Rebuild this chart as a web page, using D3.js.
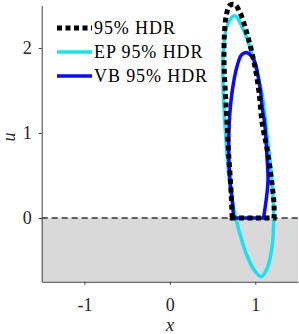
<!DOCTYPE html>
<html>
<head>
<meta charset="utf-8">
<script src="https://cdn.jsdelivr.net/npm/d3@7"></script>
<style>
  body { margin: 0; background: #fff; }
  text { font-family: "Liberation Serif", "Times New Roman", serif; }
</style>
</head>
<body>
<svg id="chart" width="299" height="334"></svg>
<script>
"use strict";

// contour du HDR 95% (tronqué à u = 0)
var hdrX = [0.73, 0.71, 0.69, 0.67, 0.65, 0.635, 0.638, 0.66, 0.70, 0.76, 0.82, 0.90, 0.98, 1.04, 1.08, 1.14, 1.19, 1.22, 1.22]
var hdrU = [0, 0.43, 0.72, 1.12, 1.47, 1.80, 2.15, 2.38, 2.50, 2.51, 2.42, 2.18, 1.86, 1.51, 1.12, 0.80, 0.45, 0.15, 0]

// ellipse EP (fermée)
var epX = [0.757, 0.88, 1.0, 1.08, 1.14, 1.19, 1.215, 1.195, 1.135, 1.07, 1.0, 0.905, 0.815, 0.745, 0.695, 0.655, 0.625, 0.628, 0.67]
var epU = [2.38, 2.17, 1.78, 1.45, 0.95, 0.50, 0.05, -0.35, -0.60, -0.69, -0.63, -0.45, -0.17, 0.12, 0.45, 0.95, 1.50, 1.98, 2.26]

// contour VB (tronqué à u = 0)
var vbX = [0.746, 0.727, 0.707, 0.69, 0.695, 0.727, 0.785, 0.84, 0.903, 0.96, 1.0, 1.06, 1.08, 1.11, 1.137, 1.149, 1.137, 1.097]
var vbU = [0, 0.25, 0.41, 0.72, 1.11, 1.47, 1.78, 1.92, 1.945, 1.90, 1.82, 1.50, 1.30, 1.11, 0.72, 0.45, 0.29, 0]

var xTicks = [-1, 0, 1]
var uTicks = [0, 1, 2]
var xDomain = [-1.5, 1.5]
var uDomain = [-0.75, 2.5]

var legendNames = ["95% HDR", "EP 95% HDR", "VB 95% HDR"]

function toPoints(xs, us) {
    return xs.map((d, i) => ({x: d, u: us[i]}))
}

var svg = d3.select("#chart")

var x = d3.scaleLinear().domain(xDomain).range([41.7, 298])
var y = d3.scaleLinear().domain(uDomain).range([281.75, 5.5])

// zone grise u < 0
svg.append("rect")
    .attr("x", x(xDomain[0]))
    .attr("y", y(0))
    .attr("width", x(xDomain[1]) - x(xDomain[0]))
    .attr("height", y(uDomain[0]) - y(0))
    .attr("fill", "#d9d9d9")

// ligne pointillée u = 0
svg.append("line")
    .attr("x1", x(xDomain[0]))
    .attr("x2", x(xDomain[1]))
    .attr("y1", y(0))
    .attr("y2", y(0))
    .attr("stroke", "#333")
    .attr("stroke-width", 1.3)
    .attr("stroke-dasharray", "6,4")

// axes
var xAxis = d3.axisBottom(x).tickValues(xTicks).tickFormat(d => String(d))
    .tickSize(3).tickSizeOuter(0).tickPadding(13)
var yAxis = d3.axisLeft(y).tickValues(uTicks).tickFormat(d => String(d))
    .tickSize(3).tickSizeOuter(0).tickPadding(7)

svg.append("g")
    .attr("transform", "translate(0," + y(uDomain[0]) + ")")
    .call(xAxis)
svg.append("g")
    .attr("transform", "translate(" + x(xDomain[0]) + ",0)")
    .call(yAxis)

svg.selectAll(".domain, .tick line").attr("stroke", "#404040")
svg.selectAll(".tick text")
    .attr("font-family", "Liberation Serif, serif")
    .attr("font-size", 18)
    .attr("fill", "#262626")

// titres des axes
svg.append("text")
    .attr("x", x(0))
    .attr("y", 331)
    .attr("text-anchor", "middle")
    .attr("font-size", 19)
    .attr("font-style", "italic")
    .attr("fill", "#262626")
    .text("x")

svg.append("text")
    .attr("transform", "translate(15,137) rotate(-90)")
    .attr("text-anchor", "middle")
    .attr("font-size", 18)
    .attr("font-style", "italic")
    .attr("fill", "#262626")
    .text("u")

// courbes
var line = d3.line()
    .x(d => x(d.x))
    .y(d => y(d.u))
    .curve(d3.curveCatmullRom.alpha(0.5))

var lineClosed = d3.line()
    .x(d => x(d.x))
    .y(d => y(d.u))
    .curve(d3.curveCatmullRomClosed.alpha(0.5))

var styles = [
    {color: "#000", width: 5, dash: "5,3.5"},
    {color: "#14e3f5", width: 3.5, dash: null},
    {color: "#0a0aff", width: 3.5, dash: null}
]

svg.append("path")
    .attr("d", lineClosed(toPoints(epX, epU)))
    .attr("fill", "none")
    .attr("stroke", styles[1].color)
    .attr("stroke-width", styles[1].width)

svg.append("path")
    .attr("d", line(toPoints(vbX, vbU)) + "Z")
    .attr("fill", "none")
    .attr("stroke", styles[2].color)
    .attr("stroke-width", styles[2].width)

svg.append("path")
    .attr("d", line(toPoints(hdrX, hdrU)) + "Z")
    .attr("fill", "none")
    .attr("stroke", styles[0].color)
    .attr("stroke-width", styles[0].width)
    .attr("stroke-dasharray", styles[0].dash)

// légende
var legend = svg.append("g")
    .selectAll("g")
    .data(legendNames)
    .enter()
    .append("g")
    .attr("transform", (d, i) => "translate(57," + (28 + i * 24) + ")")

legend.append("line")
    .attr("x1", 0)
    .attr("x2", 35)
    .attr("stroke", (d, i) => styles[i].color)
    .attr("stroke-width", (d, i) => styles[i].width)
    .attr("stroke-dasharray", (d, i) => styles[i].dash)

legend.append("text")
    .attr("x", 37)
    .attr("y", 6)
    .attr("font-size", 18)
    .attr("letter-spacing", 0.9)
    .attr("fill", "#000")
    .text(d => d)
</script>
</body>
</html>
